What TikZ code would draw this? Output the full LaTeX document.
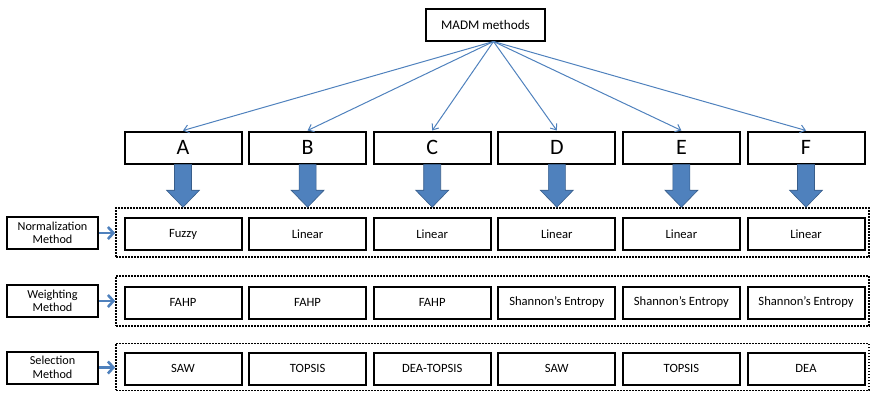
\documentclass[tikz,border=0pt]{standalone}
\usepackage{fontspec}
\setmainfont{Carlito}
\usetikzlibrary{calc,arrows.meta}
\definecolor{officeblue}{RGB}{79,129,189}
\definecolor{officeblueedge}{RGB}{56,93,138}
\tikzset{
  box/.style={draw=black, line width=2pt, minimum width=117pt, minimum height=32pt, inner sep=0pt, font=\fontsize{12.6}{14}\selectfont},
  letterbox/.style={box, font=\fontsize{22}{24}\selectfont},
  labelbox/.style={draw=black, line width=2pt, minimum width=91pt, minimum height=32pt, inner sep=0pt, align=center, font=\fontsize{12.2}{13.5}\selectfont},
  rowframe/.style={draw=black, line width=1.6pt, dash pattern=on 1.6pt off 1.4pt},
  fanout/.style={draw=officeblue, line width=1pt, -{Straight Barb[length=5pt,width=8pt]}},
  sidearrow/.style={draw=officeblue, line width=2.6pt, -{Straight Barb[length=5.5pt,width=12pt]}},
  blockarrow/.style={fill=officeblue, draw=officeblueedge, line width=0.6pt}
}
\begin{document}
\begin{tikzpicture}[x=1pt,y=-1pt]
\useasboundingbox (0,0) rectangle (874,392);

% root
\node[box, minimum width=119pt, font=\fontsize{13.2}{15}\selectfont] (madm) at (485.5,24.5) {MADM methods};

% letter boxes and their rows
\foreach \n/\lab/\nrm/\wgt/\sel [count=\i from 0] in
  {a/A/Fuzzy/FAHP/SAW,
   b/B/Linear/FAHP/TOPSIS,
   c/C/Linear/FAHP/DEA-TOPSIS,
   d/D/Linear/Shannon’s Entropy/SAW,
   e/E/Linear/Shannon’s Entropy/TOPSIS,
   f/F/Linear/Shannon’s Entropy/DEA}{
  \pgfmathsetmacro{\cx}{183+124.6*\i}
  \node[letterbox] (\n) at (\cx,147.5) {\lab};
  \node[box] (\n1) at (\cx,234) {\nrm};
  \node[box] (\n2) at (\cx,302.5) {\wgt};
  \node[box] (\n3) at (\cx,368.5) {\sel};
}

% dotted row frames
\node[rowframe, inner sep=0pt, minimum width=753pt, minimum height=49pt] (row1) at (492.5,232.5) {};
\node[rowframe, inner sep=0pt, minimum width=753pt, minimum height=50pt] (row2) at (492.5,301) {};
\node[rowframe, inner sep=0pt, minimum width=753pt, minimum height=47pt] (row3) at (492.5,366.8) {};

% row labels
\node[labelbox] (lnorm) at (52.5,233) {Normalization\\Method};
\node[labelbox] (lwgt) at (52.5,301) {Weighting\\Method};
\node[labelbox] (lsel) at (52.5,367.5) {Selection\\Method};

\draw[sidearrow] (lnorm.east) -- (row1.west |- lnorm.east);
\draw[sidearrow] (lwgt.east) -- (row2.west |- lwgt.east);
\draw[sidearrow] (lsel.east) -- (row3.west |- lsel.east);

% fan-out connectors
\coordinate (hub) at ($(madm.south)+(8,0)$);
\foreach \n in {a,b,c,d,e,f}
  \draw[fanout] (hub) -- (\n.north);

% block arrows into the first row
\foreach \n in {a,b,c,d,e,f}{
  \path (\n.south) coordinate (top) (\n.south |- row1.north) coordinate (tip);
  \filldraw[blockarrow] ($(top)+(-8.5,0)$) -- ($(top)+(8.5,0)$) -- ($(tip)+(8.5,-17)$)
    -- ($(tip)+(16.5,-17)$) -- (tip) -- ($(tip)+(-16.5,-17)$) -- ($(tip)+(-8.5,-17)$) -- cycle;
}
\end{tikzpicture}
\end{document}
